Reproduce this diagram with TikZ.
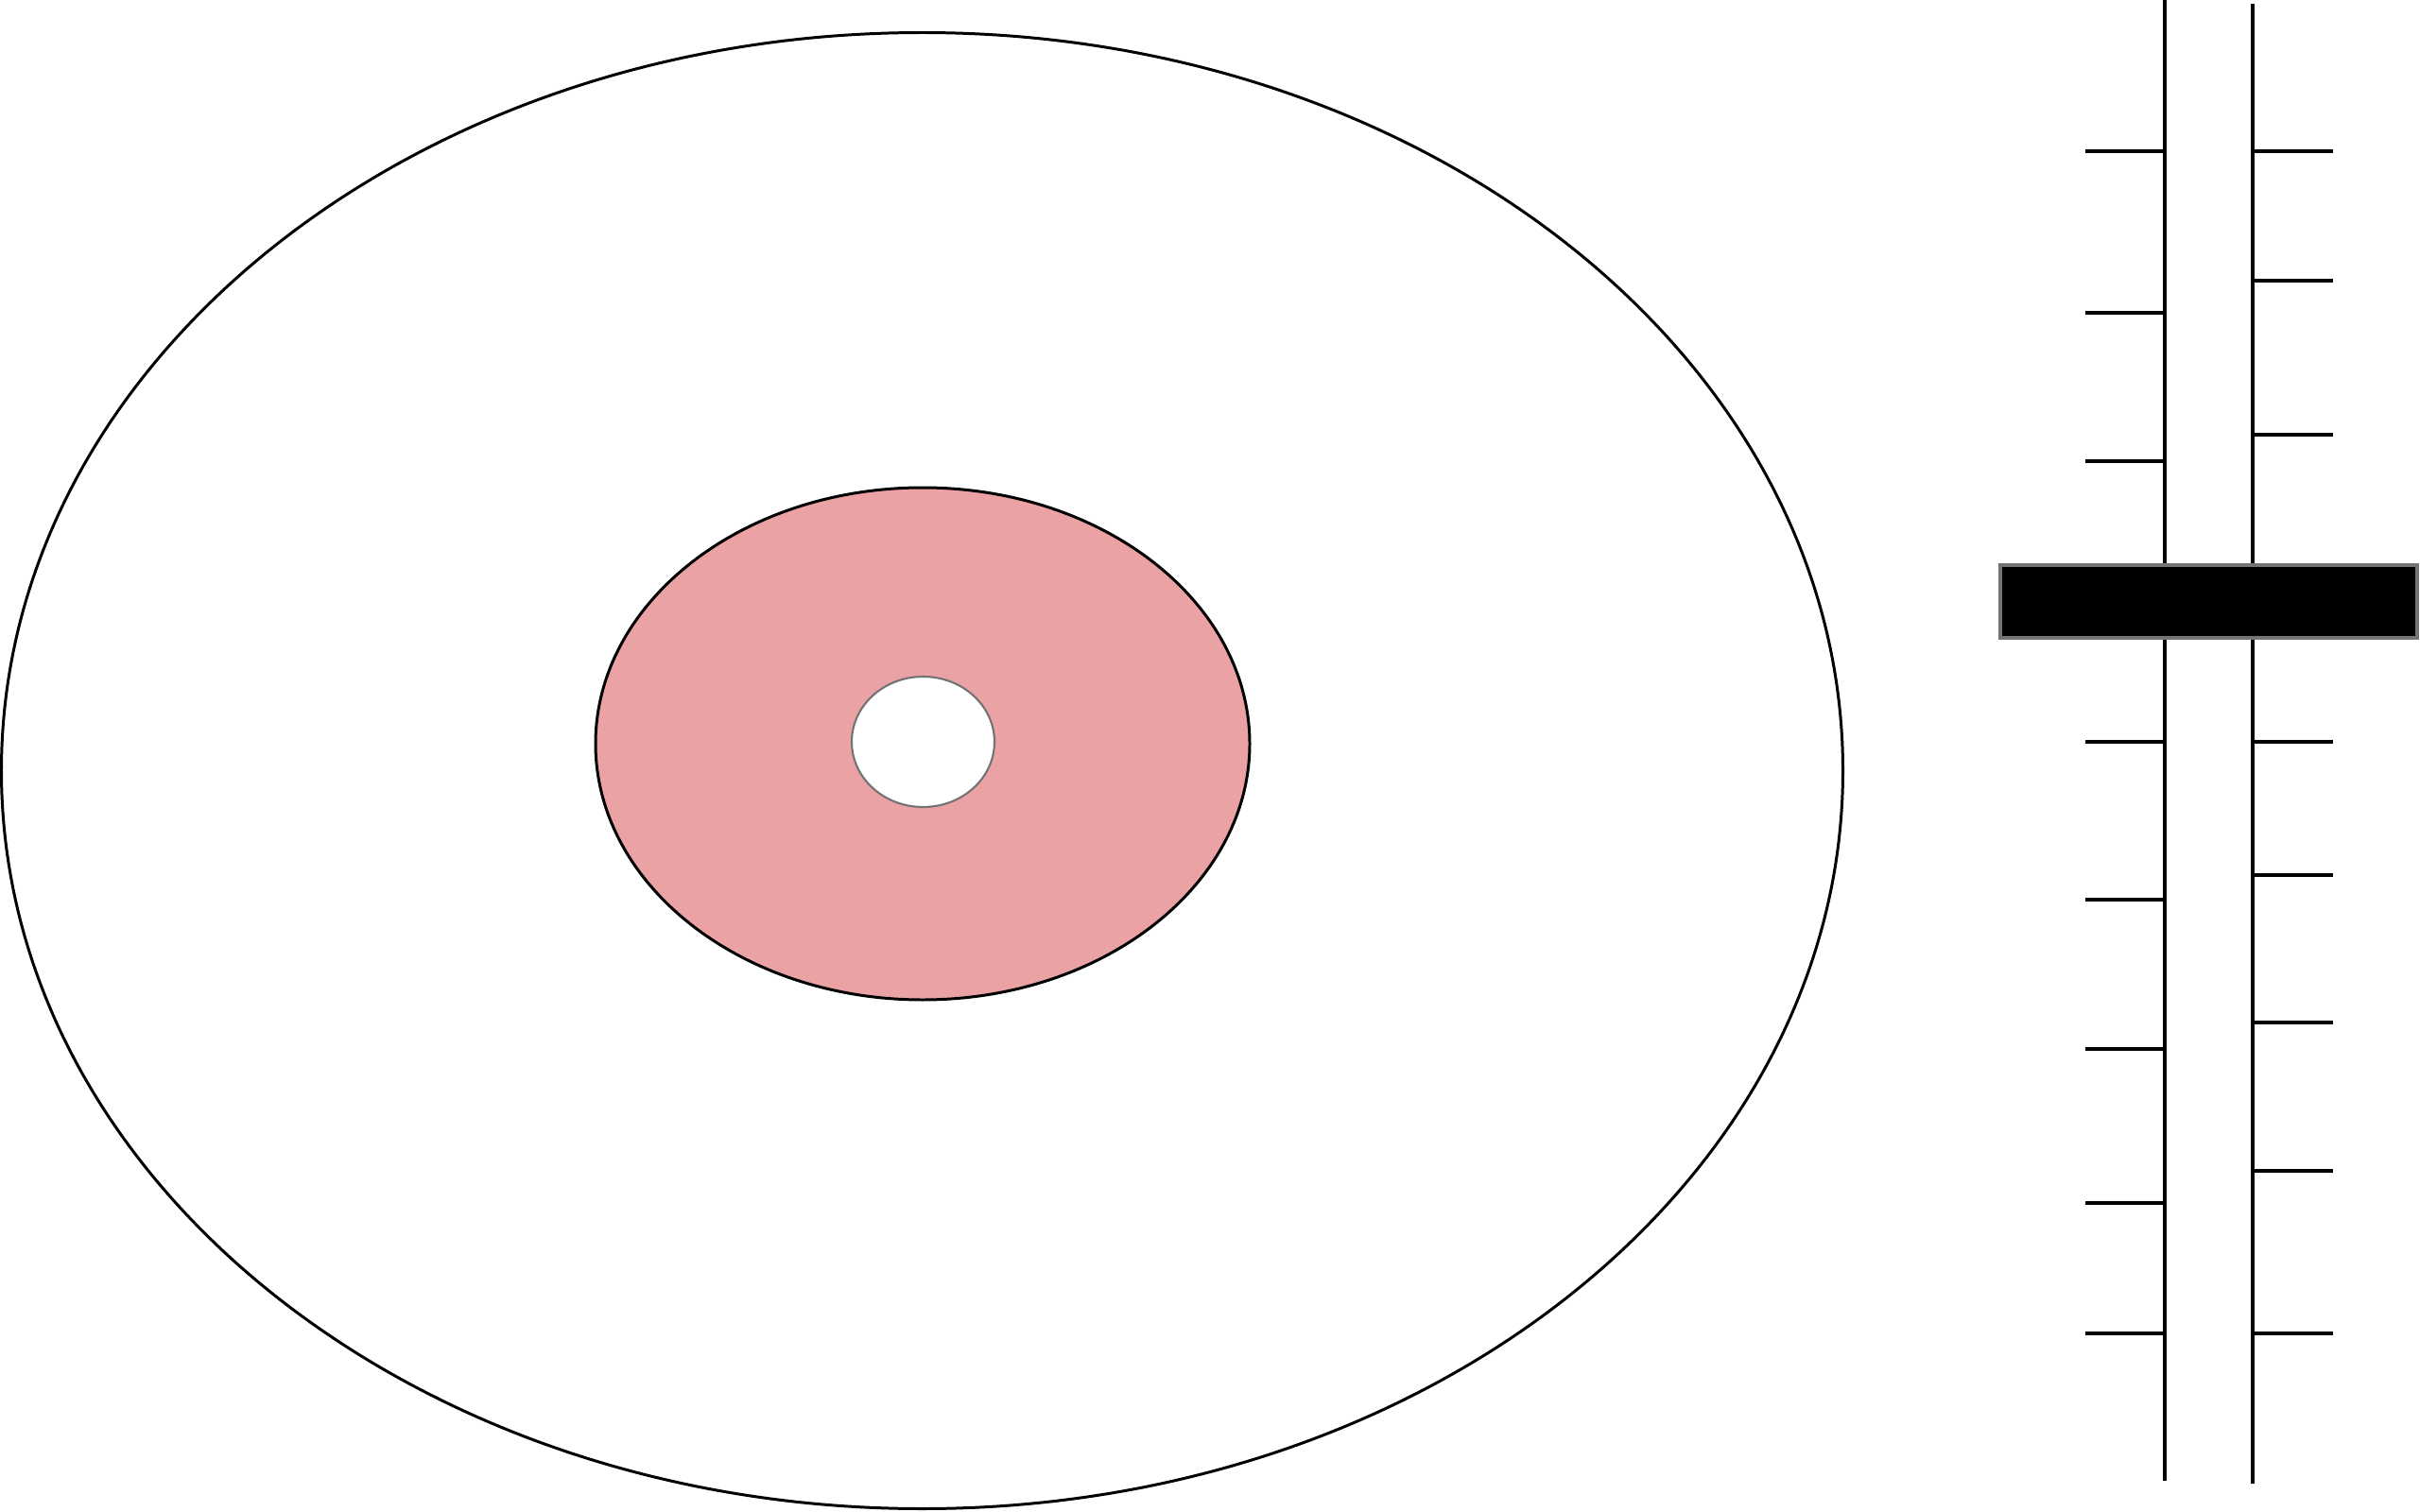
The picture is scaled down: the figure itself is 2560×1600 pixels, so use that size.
\documentclass[tikz,border=0pt]{standalone}
\usepackage{xcolor}
\usetikzlibrary{positioning}
\definecolor{pinkring}{RGB}{234,162,164}
\tikzset{
  outline/.style={line width=0.85pt,draw=black},
  ringfill/.style={line width=0.85pt,draw=black,fill=pinkring},
  holefill/.style={line width=0.6pt,draw=black!55,fill=white},
  rail/.style={line width=0.9pt,draw=black},
  tick/.style={line width=0.9pt,draw=black},
  slider/.style={line width=0.9pt,draw=black!55,fill=black}
}
\begin{document}
\begin{tikzpicture}[x=0.01cm,y=-0.01cm]
  \useasboundingbox (0,0) rectangle (2560,1600);
  % disc
  \draw[outline] (975.5,815.5) ellipse [x radius=974,y radius=781];
  \draw[ringfill] (976,787) ellipse [x radius=346,y radius=271];
  \draw[holefill] (976.5,785) ellipse [x radius=75.5,y radius=69];
  % rails
  \coordinate (railLtop) at (2290,0);
  \coordinate (railLbot) at (2290,1567);
  \coordinate (railRtop) at (2383,4);
  \coordinate (railRbot) at (2383,1570);
  \draw[rail] (railLtop) -- (railLbot);
  \draw[rail] (railRtop) -- (railRbot);
  \foreach \y in {160,331,488,785,952,1110,1273,1411}{\draw[tick] (2206,\y)--(2290,\y);}
  \foreach \y in {160,297,460,785,926,1082,1239,1411}{\draw[tick] (2383,\y)--(2468,\y);}
  % slider
  \draw[slider] (2116,598) rectangle (2557,675);
\end{tikzpicture}
\end{document}
